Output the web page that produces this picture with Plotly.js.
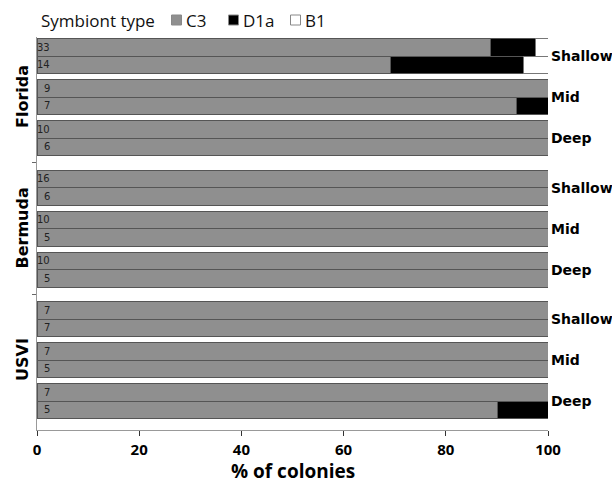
<!DOCTYPE html>
<html>
<head>
<meta charset="utf-8">
<script src="https://cdn.plot.ly/plotly-3.0.1.min.js"></script>
<style>html,body{margin:0;padding:0;background:#fff;}#chart{width:612px;height:484px;}</style>
</head>
<body>
<div id="chart"></div>
<script>
// ---- data ----
var regions = ["Florida", "Bermuda", "USVI"];
var depths = ["Shallow", "Mid", "Deep"];
// sample sizes, order: region -> depth -> two bars
var sampleN = [33, 14, 9, 7, 10, 6, 16, 6, 10, 5, 10, 5, 7, 7, 7, 5, 7, 5];
var c3  = [88.7, 69.1, 100, 93.9, 100, 100, 100, 100, 100, 100, 100, 100, 100, 100, 100, 100, 100, 90.1];
var d1a = [8.9, 26.2, 0, 6.1, 0, 0, 0, 0, 0, 0, 0, 0, 0, 0, 0, 0, 0, 9.9];
var b1  = [2.4, 4.7, 0, 0, 0, 0, 0, 0, 0, 0, 0, 0, 0, 0, 0, 0, 0, 0];
var seriesNames = ["C3", "D1a", "B1"];
var seriesColors = ["#8f8f8f", "#000000", "#ffffff"];
var xTicks = [0, 20, 40, 60, 80, 100];
var xTitle = "% of colonies";

// ---- layout geometry (pixel-like units on y) ----
var H = 17.5, G_DEPTH = 6, G_REGION = 14.5, START = 1.5;
var REGION_STRIDE = 6 * H + 2 * G_DEPTH + G_REGION;
var ys = [];
for (var r = 0; r < regions.length; r++)
  for (var d = 0; d < depths.length; d++)
    for (var b = 0; b < 2; b++)
      ys.push(START + r * REGION_STRIDE + d * (2 * H + G_DEPTH) + b * H + H / 2);

var lineCol = "#555";
var traces = [c3, d1a, b1].map(function (vals, i) {
  return {
    type: "bar", orientation: "h", x: vals, y: ys, width: H,
    name: seriesNames[i], showlegend: false,
    marker: { color: seriesColors[i], line: { color: i === 2 ? "#777" : lineCol, width: 1 } },
    hoverinfo: "x+name", cliponaxis: false
  };
});

var annotations = [];
for (var k = 0; k < ys.length; k++) {
  annotations.push({ xref: "x", yref: "y", x: 0, y: ys[k], text: String(sampleN[k]), showarrow: false,
    xanchor: "right", yanchor: "middle", xshift: 15, font: { family: "DejaVu Sans", size: 10, color: "#222" } });
}
var sepTicks = [];
for (var r2 = 0; r2 < regions.length; r2++) {
  for (var d2 = 0; d2 < depths.length; d2++) {
    var idx = (r2 * 3 + d2) * 2;
    annotations.push({ xref: "paper", yref: "y", x: 1, xshift: 1, y: (ys[idx] + ys[idx + 1]) / 2,
      text: "<b>" + depths[d2] + "</b>", showarrow: false, xanchor: "left", yanchor: "middle",
      font: { family: "DejaVu Sans", size: 14, color: "#000" } });
  }
  var first = r2 * 6, last = r2 * 6 + 5;
  annotations.push({ xref: "paper", yref: "y", x: 0, xshift: -15, y: (ys[first] + ys[last]) / 2,
    text: "<b>" + regions[r2] + "</b>", showarrow: false, textangle: -90, xanchor: "center", yanchor: "middle",
    font: { family: "DejaVu Sans", size: 16, color: "#000" } });
  if (r2 < regions.length - 1) sepTicks.push(ys[last] + H / 2 + G_REGION / 2);
}

// x-axis title
annotations.push({ xref: "paper", yref: "paper", x: 0.5, y: 0, yshift: -41, text: "<b>" + xTitle + "</b>",
  showarrow: false, xanchor: "center", yanchor: "middle",
  font: { family: "Open Sans", size: 19, color: "#000", weight: 700 } });

// custom legend
var shapes = [];
var legFont = { family: "Open Sans", size: 17, color: "#111" };
annotations.push({ xref: "paper", yref: "paper", x: 0, xshift: 2, y: 1, yshift: 17, text: "Symbiont type",
  showarrow: false, xanchor: "left", yanchor: "middle", font: legFont });
var legX = [171, 228, 290];
for (var s = 0; s < seriesNames.length; s++) {
  shapes.push({ type: "rect", xref: "paper", yref: "paper", xsizemode: "pixel", ysizemode: "pixel",
    xanchor: 0, yanchor: 1, x0: legX[s] - 36.5, x1: legX[s] - 36.5 + 10, y0: 12, y1: 22,
    fillcolor: seriesColors[s], line: { color: "#888", width: 1 } });
  annotations.push({ xref: "paper", yref: "paper", x: 0, xshift: legX[s] - 36.5 + 12, y: 1, yshift: 17,
    text: seriesNames[s], showarrow: false, xanchor: "left", yanchor: "middle", font: legFont });
}

var layout = {
  width: 612, height: 484,
  margin: { l: 36.5, r: 64, t: 37, b: 54, pad: 0 },
  paper_bgcolor: "#fff", plot_bgcolor: "#fff",
  barmode: "stack", bargap: 0,
  showlegend: false,
  xaxis: {
    range: [0, 100], tickvals: xTicks, ticktext: xTicks.map(function (v) { return "<b>" + v + "</b>"; }),
    ticks: "outside", ticklen: 5, tickcolor: "#333", showline: true, linecolor: "#999", linewidth: 1,
    showgrid: false, zeroline: false, fixedrange: true, ticklabelstandoff: 1,
    tickfont: { family: "Open Sans", size: 15, color: "#000", weight: 700 }
  },
  yaxis: {
    range: [393, 0], showline: true, linecolor: "#999", linewidth: 1, showgrid: false, zeroline: false,
    tickvals: sepTicks, ticks: "outside", ticklen: 4, tickcolor: "#666", showticklabels: false, fixedrange: true
  },
  shapes: shapes,
  annotations: annotations
};

Plotly.newPlot("chart", traces, layout, { displayModeBar: false, staticPlot: true });
</script>
</body>
</html>
